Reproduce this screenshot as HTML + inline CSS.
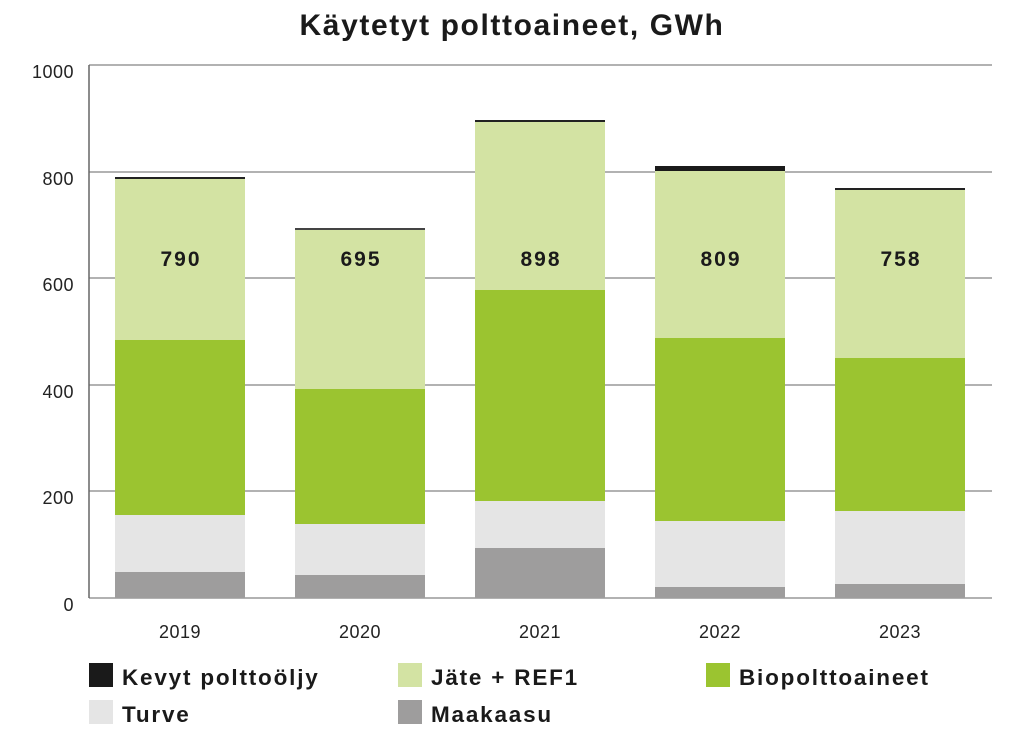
<!DOCTYPE html>
<html><head><meta charset="utf-8"><style>
body{margin:0;background:#fff;width:1024px;height:734px;overflow:hidden}
svg text{font-family:"Liberation Sans",sans-serif}
</style></head><body>
<svg width="1024" height="734" xmlns="http://www.w3.org/2000/svg">
<text x="512" y="35" text-anchor="middle" font-size="30" font-weight="bold" letter-spacing="1.6" fill="#1a1a1a">Käytetyt polttoaineet, GWh</text>
<g stroke="#999" stroke-width="1.5">
<line x1="89" y1="65" x2="992" y2="65"/><line x1="89" y1="172" x2="992" y2="172"/>
<line x1="89" y1="278" x2="992" y2="278"/><line x1="89" y1="385" x2="992" y2="385"/>
<line x1="89" y1="491" x2="992" y2="491"/><line x1="89" y1="598" x2="992" y2="598"/>
</g>
<line x1="89" y1="65" x2="89" y2="598" stroke="#666" stroke-width="1.5"/>
<g font-size="18" fill="#222" text-anchor="end" letter-spacing="0.5">
<text x="74" y="78">1000</text><text x="74" y="185">800</text><text x="74" y="291">600</text>
<text x="74" y="398">400</text><text x="74" y="504">200</text><text x="74" y="611">0</text>
</g>
<g>
<rect x="115" y="572" width="130" height="26" fill="#9e9d9d"/><rect x="115" y="515" width="130" height="57" fill="#e5e5e5"/><rect x="115" y="340" width="130" height="175" fill="#9bc430"/><rect x="115" y="179" width="130" height="161" fill="#d3e3a3"/><rect x="115" y="177" width="130" height="2" fill="#222"/>
<rect x="295" y="575" width="130" height="23" fill="#9e9d9d"/><rect x="295" y="524" width="130" height="51" fill="#e5e5e5"/><rect x="295" y="389" width="130" height="135" fill="#9bc430"/><rect x="295" y="230" width="130" height="159" fill="#d3e3a3"/><rect x="295" y="228" width="130" height="2" fill="#444"/>
<rect x="475" y="548" width="130" height="50" fill="#9e9d9d"/><rect x="475" y="501" width="130" height="47" fill="#e5e5e5"/><rect x="475" y="290" width="130" height="211" fill="#9bc430"/><rect x="475" y="122" width="130" height="168" fill="#d3e3a3"/><rect x="475" y="120" width="130" height="2" fill="#222"/>
<rect x="655" y="587" width="130" height="11" fill="#9e9d9d"/><rect x="655" y="521" width="130" height="66" fill="#e5e5e5"/><rect x="655" y="338" width="130" height="183" fill="#9bc430"/><rect x="655" y="171" width="130" height="167" fill="#d3e3a3"/><rect x="655" y="166" width="130" height="5" fill="#1a1a1a"/>
<rect x="835" y="584" width="130" height="14" fill="#9e9d9d"/><rect x="835" y="511" width="130" height="73" fill="#e5e5e5"/><rect x="835" y="358" width="130" height="153" fill="#9bc430"/><rect x="835" y="190" width="130" height="168" fill="#d3e3a3"/><rect x="835" y="188" width="130" height="2" fill="#222"/>
</g>
<g font-size="21" font-weight="bold" fill="#1a1a1a" text-anchor="middle" letter-spacing="2">
<text x="181" y="266">790</text><text x="361" y="266">695</text><text x="541" y="266">898</text><text x="721" y="266">809</text><text x="901" y="266">758</text>
</g>
<g font-size="18" fill="#222" text-anchor="middle" letter-spacing="0.5">
<text x="180" y="638">2019</text><text x="360" y="638">2020</text><text x="540" y="638">2021</text><text x="720" y="638">2022</text><text x="900" y="638">2023</text>
</g>
<g font-size="22.5" font-weight="bold" fill="#1a1a1a" letter-spacing="1.8">
<rect x="89" y="663" width="24" height="24" fill="#1a1a1a"/><text x="122" y="685">Kevyt polttoöljy</text>
<rect x="398" y="663" width="24" height="24" fill="#d3e3a3"/><text x="431" y="685">Jäte + REF1</text>
<rect x="706" y="663" width="24" height="24" fill="#9bc430"/><text x="739" y="685">Biopolttoaineet</text>
<rect x="89" y="700" width="24" height="24" fill="#e5e5e5"/><text x="122" y="722">Turve</text>
<rect x="398" y="700" width="24" height="24" fill="#9e9d9d"/><text x="431" y="722">Maakaasu</text>
</g>
</svg>
</body></html>
